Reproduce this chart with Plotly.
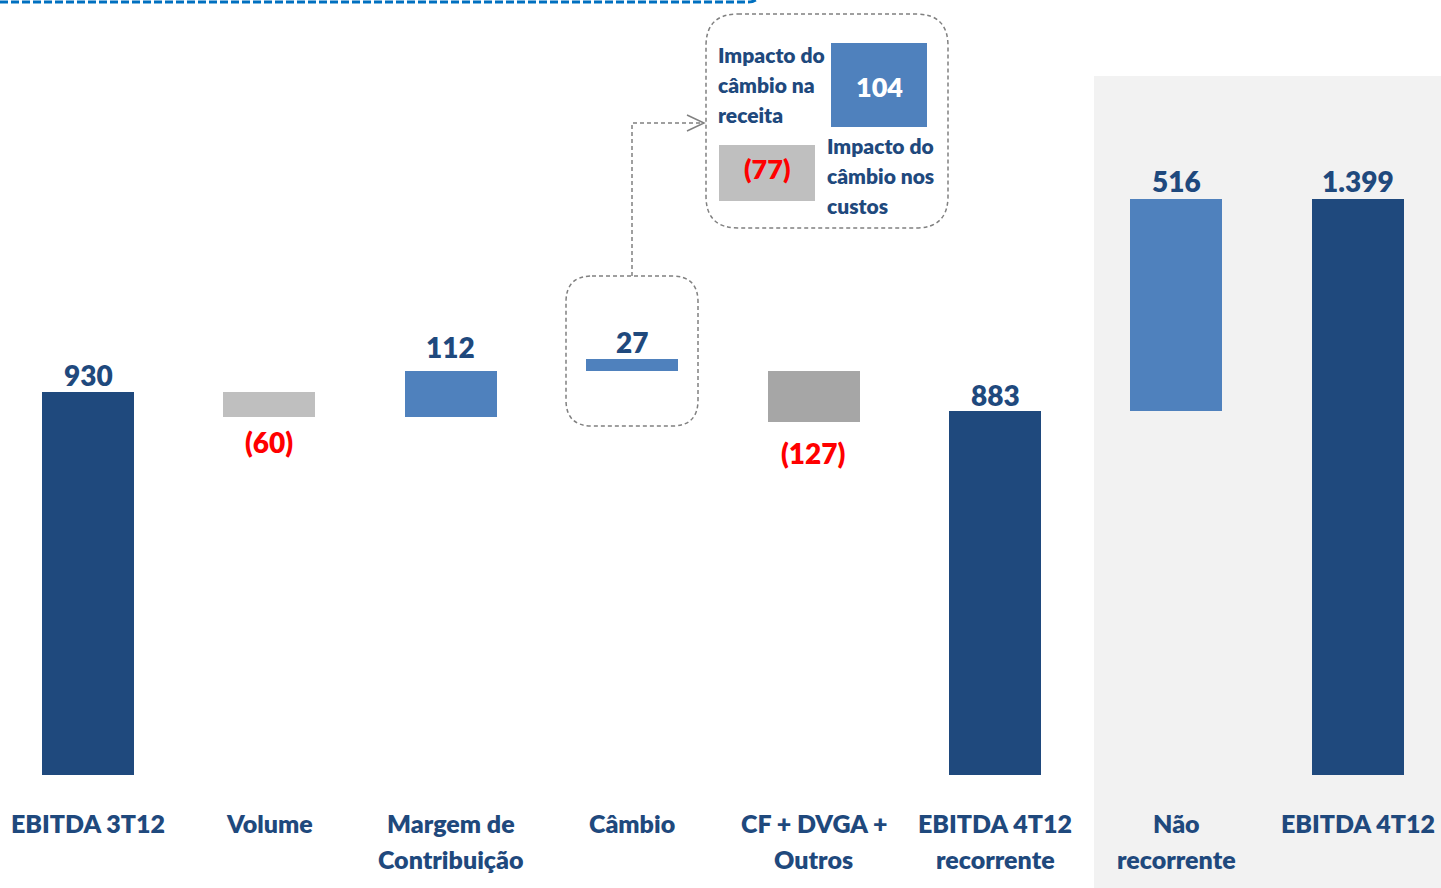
import plotly.graph_objects as go

# ---------------- data ----------------
categories = ["EBITDA 3T12", "Volume", "Margem de<br>Contribuição", "Câmbio",
              "CF + DVGA +<br>Outros", "EBITDA 4T12<br>recorrente", "Não<br>recorrente", "EBITDA 4T12"]
values = [930, -60, 112, 27, -127, 883, 516, 1399]
# bar bottoms/tops as drawn in the reference
bar_bottom = [0, 870, 870, 982, 858, 0, 883, 0]
bar_top = [930, 930, 982, 1009, 982, 883, 1399, 1399]
value_labels = ["930", "(60)", "112", "27", "(127)", "883", "516", "1.399"]
fx_values = [104, -77]
fx_labels = ["104", "(77)"]
fx_texts = ["Impacto do<br>câmbio na<br>receita", "Impacto do<br>câmbio nos<br>custos"]

# label offsets in pixels (style)
label_shift = [17, -25, 24, 17, -31, 16, 18, 18]

NAVY = "#1f497d"
BLUE = "#4f81bd"
colors = [NAVY, "#bfbfbf", BLUE, BLUE, "#a6a6a6", NAVY, BLUE, NAVY]
FONT = "Lato, 'Open Sans', sans-serif"
WEIGHT = 800

W, H = 1441, 888
BASE_PX = 775
PPU = 0.4118          # pixels per unit
X0_PX, STEP_PX = 88, 181.4

xs = list(range(len(categories)))
heights = [t - b for t, b in zip(bar_top, bar_bottom)]

fig = go.Figure(go.Bar(
    x=xs, y=heights, base=bar_bottom, marker=dict(color=colors, line=dict(width=0)),
    width=0.507, hoverinfo="skip"))

def px(x):
    return x / W

def py(y):
    return (BASE_PX - y) / BASE_PX

def fnt(size, color):
    return dict(family=FONT, size=size, color=color, weight=WEIGHT)

shapes = []
annotations = []

# grey background panel
shapes.append(dict(type="rect", xref="paper", yref="paper", x0=px(1094), x1=1.0,
                   y0=py(888), y1=py(76), fillcolor="#f2f2f2", line=dict(width=0), layer="below"))

# top dashed blue line
shapes.append(dict(type="path", xref="paper", yref="paper",
                   path=f"M {px(0)},{py(2)} L {px(748)},{py(2)} Q {px(754)},{py(2)} {px(757)},{py(-1)}",
                   line=dict(color="#0070c0", width=3, dash="8px,3px")))

def rounded(x0, y0, x1, y1, r):
    return (f"M {px(x0 + r)},{py(y0)} L {px(x1 - r)},{py(y0)} "
            f"Q {px(x1)},{py(y0)} {px(x1)},{py(y0 + r)} "
            f"L {px(x1)},{py(y1 - r)} Q {px(x1)},{py(y1)} {px(x1 - r)},{py(y1)} "
            f"L {px(x0 + r)},{py(y1)} Q {px(x0)},{py(y1)} {px(x0)},{py(y1 - r)} "
            f"L {px(x0)},{py(y0 + r)} Q {px(x0)},{py(y0)} {px(x0 + r)},{py(y0)} Z")

dash_line = dict(color="#808080", width=1.5, dash="4px,3px")
shapes.append(dict(type="path", xref="paper", yref="paper", path=rounded(566, 276, 698, 426, 26), line=dash_line))
shapes.append(dict(type="path", xref="paper", yref="paper", path=rounded(706, 14, 948, 228, 32), line=dash_line))
# connector
shapes.append(dict(type="path", xref="paper", yref="paper",
                   path=f"M {px(632)},{py(276)} L {px(632)},{py(123)} L {px(704)},{py(123)}", line=dash_line))
shapes.append(dict(type="path", xref="paper", yref="paper",
                   path=f"M {px(687)},{py(115)} L {px(704)},{py(123)} L {px(687)},{py(131)}",
                   line=dict(color="#808080", width=1.5)))

# fx boxes
shapes.append(dict(type="rect", xref="paper", yref="paper", x0=px(831), x1=px(927), y0=py(127), y1=py(43),
                   fillcolor=BLUE, line=dict(width=0)))
shapes.append(dict(type="rect", xref="paper", yref="paper", x0=px(719), x1=px(815), y0=py(201), y1=py(145),
                   fillcolor="#bfbfbf", line=dict(width=0)))
annotations.append(dict(xref="paper", yref="paper", x=px(879), y=py(86), text=fx_labels[0],
                        showarrow=False, font=fnt(27, "white"), xanchor="center", yanchor="middle"))
annotations.append(dict(xref="paper", yref="paper", x=px(767), y=py(169), text=fx_labels[1],
                        showarrow=False, font=fnt(27, "red"), xanchor="center", yanchor="middle"))
for (x0, y0), txt in zip([(716, 54), (825, 146)], fx_texts):
    for k, line in enumerate(txt.split("<br>")):
        annotations.append(dict(xref="paper", yref="paper", x=px(x0), y=py(y0 + 30 * k),
                                text=line, align="left", showarrow=False, font=fnt(21, NAVY),
                                xanchor="left", yanchor="middle"))

# value labels
for i, (v, lab) in enumerate(zip(values, value_labels)):
    pos = v >= 0
    annotations.append(dict(x=i, y=bar_top[i] if pos else bar_bottom[i], xref="x", yref="y", text=lab,
                            showarrow=False, yanchor="middle", yshift=label_shift[i],
                            font=fnt(28, NAVY if pos else "red")))

# category labels (line spacing 36 px)
for i, c in enumerate(categories):
    for k, line in enumerate(c.split("<br>")):
        annotations.append(dict(x=i, y=0, xref="x", yref="y", text=line, showarrow=False,
                                yanchor="middle", yshift=-48 - 36 * k, font=fnt(25, NAVY)))

x_lo = -X0_PX / STEP_PX
x_hi = (W - X0_PX) / STEP_PX
fig.update_layout(
    width=W, height=H, margin=dict(l=0, r=0, t=0, b=H - BASE_PX),
    paper_bgcolor="white", plot_bgcolor="rgba(0,0,0,0)", showlegend=False,
    xaxis=dict(range=[x_lo, x_hi], visible=False, fixedrange=True),
    yaxis=dict(range=[0, BASE_PX / PPU], visible=False, fixedrange=True),
    shapes=shapes, annotations=annotations, bargap=0,
)
fig.write_html("out.html", config={"displayModeBar": False},
               post_script="document.body.style.margin='0';document.body.style.overflow='hidden';")
